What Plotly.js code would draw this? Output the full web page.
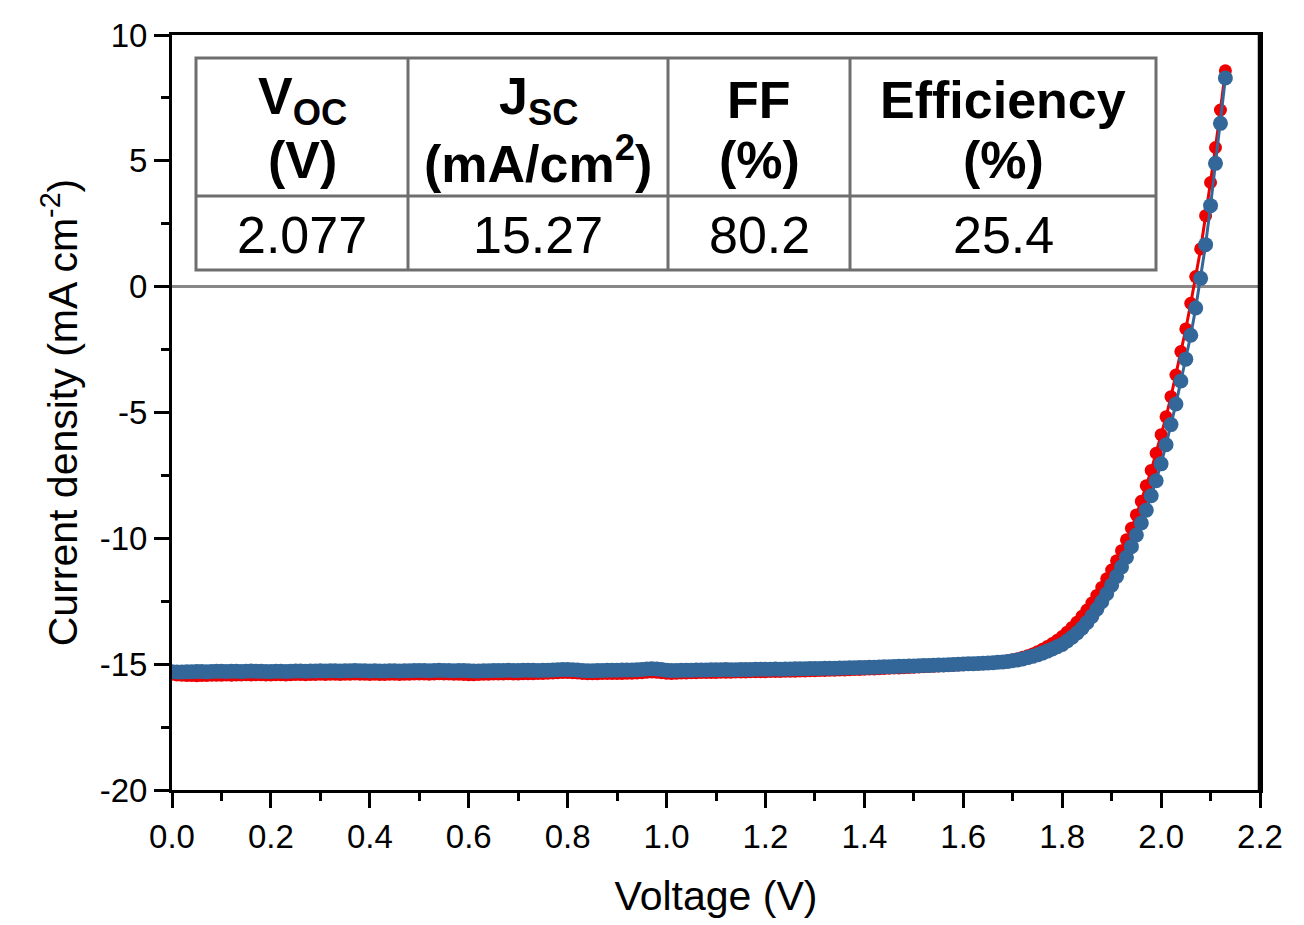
<!DOCTYPE html>
<html>
<head>
<meta charset="utf-8">
<script src="https://cdn.plot.ly/plotly-3.0.1.min.js"></script>
<style>html,body{margin:0;padding:0;background:#fff;}#chart{width:1304px;height:925px;}</style>
</head>
<body>
<div id="chart"></div>
<script>
// Voltage sweep (V)
const voltage = [
0.00,0.01,0.02,0.03,0.04,0.05,0.06,0.07,0.08,0.09,
0.10,0.11,0.12,0.13,0.14,0.15,0.16,0.17,0.18,0.19,
0.20,0.21,0.22,0.23,0.24,0.25,0.26,0.27,0.28,0.29,
0.30,0.31,0.32,0.33,0.34,0.35,0.36,0.37,0.38,0.39,
0.40,0.41,0.42,0.43,0.44,0.45,0.46,0.47,0.48,0.49,
0.50,0.51,0.52,0.53,0.54,0.55,0.56,0.57,0.58,0.59,
0.60,0.61,0.62,0.63,0.64,0.65,0.66,0.67,0.68,0.69,
0.70,0.71,0.72,0.73,0.74,0.75,0.76,0.77,0.78,0.79,
0.80,0.81,0.82,0.83,0.84,0.85,0.86,0.87,0.88,0.89,
0.90,0.91,0.92,0.93,0.94,0.95,0.96,0.97,0.98,0.99,
1.00,1.01,1.02,1.03,1.04,1.05,1.06,1.07,1.08,1.09,
1.10,1.11,1.12,1.13,1.14,1.15,1.16,1.17,1.18,1.19,
1.20,1.21,1.22,1.23,1.24,1.25,1.26,1.27,1.28,1.29,
1.30,1.31,1.32,1.33,1.34,1.35,1.36,1.37,1.38,1.39,
1.40,1.41,1.42,1.43,1.44,1.45,1.46,1.47,1.48,1.49,
1.50,1.51,1.52,1.53,1.54,1.55,1.56,1.57,1.58,1.59,
1.60,1.61,1.62,1.63,1.64,1.65,1.66,1.67,1.68,1.69,
1.70,1.71,1.72,1.73,1.74,1.75,1.76,1.77,1.78,1.79,
1.80,1.81,1.82,1.83,1.84,1.85,1.86,1.87,1.88,1.89,
1.90,1.91,1.92,1.93,1.94,1.95,1.96,1.97,1.98,1.99,
2.00,2.01,2.02,2.03,2.04,2.05,2.06,2.07,2.08,2.09,
2.10,2.11,2.12,2.13
];

// Current density, red curve (mA cm-2)
const currentRed = [
-15.40,-15.43,-15.44,-15.45,-15.45,-15.46,-15.45,-15.45,-15.44,-15.44,
-15.44,-15.43,-15.44,-15.43,-15.43,-15.42,-15.43,-15.42,-15.42,-15.43,
-15.43,-15.42,-15.42,-15.43,-15.42,-15.41,-15.41,-15.42,-15.41,-15.41,
-15.40,-15.41,-15.40,-15.40,-15.41,-15.40,-15.40,-15.39,-15.40,-15.40,
-15.41,-15.40,-15.41,-15.41,-15.40,-15.40,-15.41,-15.40,-15.40,-15.39,
-15.39,-15.39,-15.40,-15.39,-15.38,-15.39,-15.39,-15.40,-15.40,-15.41,
-15.42,-15.42,-15.41,-15.40,-15.40,-15.39,-15.39,-15.39,-15.38,-15.39,
-15.39,-15.38,-15.38,-15.38,-15.37,-15.37,-15.36,-15.35,-15.34,-15.33,
-15.33,-15.34,-15.35,-15.37,-15.38,-15.38,-15.38,-15.37,-15.37,-15.37,
-15.37,-15.37,-15.36,-15.36,-15.35,-15.34,-15.32,-15.31,-15.32,-15.34,
-15.36,-15.37,-15.36,-15.35,-15.35,-15.34,-15.34,-15.33,-15.33,-15.33,
-15.33,-15.32,-15.32,-15.32,-15.31,-15.31,-15.31,-15.30,-15.30,-15.30,
-15.30,-15.29,-15.29,-15.29,-15.28,-15.28,-15.28,-15.27,-15.27,-15.26,
-15.26,-15.25,-15.25,-15.24,-15.24,-15.23,-15.23,-15.22,-15.21,-15.21,
-15.20,-15.19,-15.19,-15.18,-15.17,-15.16,-15.15,-15.15,-15.14,-15.13,
-15.12,-15.11,-15.10,-15.09,-15.08,-15.07,-15.06,-15.05,-15.04,-15.03,
-15.02,-15.01,-15.00,-14.99,-14.98,-14.96,-14.94,-14.92,-14.89,-14.86,
-14.82,-14.78,-14.73,-14.67,-14.60,-14.51,-14.41,-14.30,-14.18,-14.05,
-13.90,-13.73,-13.54,-13.33,-13.10,-12.85,-12.57,-12.27,-11.95,-11.61,
-11.26,-10.89,-10.49,-10.06,-9.60,-9.07,-8.53,-7.91,-7.30,-6.62,
-5.88,-5.17,-4.37,-3.51,-2.58,-1.68,-0.66,0.40,1.50,2.82,
4.14,5.53,7.02,8.58
];

// Current density, blue curve (mA cm-2)
const currentBlue = [
-15.30,-15.31,-15.31,-15.30,-15.30,-15.29,-15.29,-15.30,-15.29,-15.28,
-15.28,-15.29,-15.28,-15.28,-15.29,-15.28,-15.27,-15.28,-15.28,-15.29,
-15.29,-15.28,-15.28,-15.29,-15.28,-15.27,-15.27,-15.28,-15.27,-15.27,
-15.26,-15.27,-15.26,-15.26,-15.27,-15.26,-15.26,-15.25,-15.26,-15.26,
-15.27,-15.26,-15.27,-15.27,-15.26,-15.26,-15.27,-15.26,-15.26,-15.25,
-15.25,-15.25,-15.26,-15.25,-15.24,-15.25,-15.25,-15.26,-15.25,-15.25,
-15.26,-15.27,-15.27,-15.26,-15.26,-15.25,-15.25,-15.25,-15.24,-15.25,
-15.25,-15.24,-15.24,-15.24,-15.25,-15.24,-15.24,-15.23,-15.22,-15.21,
-15.21,-15.22,-15.23,-15.25,-15.26,-15.26,-15.25,-15.25,-15.24,-15.24,
-15.24,-15.23,-15.23,-15.23,-15.22,-15.21,-15.19,-15.18,-15.19,-15.21,
-15.24,-15.25,-15.25,-15.24,-15.24,-15.24,-15.23,-15.23,-15.23,-15.22,
-15.22,-15.22,-15.21,-15.22,-15.22,-15.21,-15.21,-15.21,-15.20,-15.20,
-15.20,-15.20,-15.19,-15.20,-15.19,-15.19,-15.18,-15.18,-15.18,-15.17,
-15.17,-15.17,-15.16,-15.16,-15.16,-15.15,-15.15,-15.14,-15.14,-15.13,
-15.13,-15.12,-15.12,-15.11,-15.10,-15.10,-15.09,-15.08,-15.08,-15.07,
-15.07,-15.06,-15.05,-15.05,-15.04,-15.03,-15.03,-15.02,-15.01,-15.00,
-14.99,-14.98,-14.98,-14.97,-14.96,-14.95,-14.94,-14.92,-14.91,-14.89,
-14.86,-14.83,-14.79,-14.74,-14.69,-14.63,-14.56,-14.48,-14.40,-14.31,
-14.22,-14.08,-13.93,-13.76,-13.57,-13.35,-13.10,-12.82,-12.52,-12.20,
-11.86,-11.51,-11.14,-10.75,-10.33,-9.87,-9.39,-8.88,-8.31,-7.71,
-7.04,-6.28,-5.48,-4.66,-3.75,-2.88,-1.93,-0.85,0.33,1.67,
3.22,4.90,6.49,8.29
];

// Axis ticks
const xTickVals = [0.0,0.2,0.4,0.6,0.8,1.0,1.2,1.4,1.6,1.8,2.0,2.2];
const xTickText = ["0.0","0.2","0.4","0.6","0.8","1.0","1.2","1.4","1.6","1.8","2.0","2.2"];
const yTickVals = [10,5,0,-5,-10,-15,-20];
const yTickText = ["10","5","0","-5","-10","-15","-20"];

// Inset table
const tableHeadLine1 = ["<b>V<sub>OC</sub></b>","<b>J<sub>SC</sub></b>","<b>FF</b>","<b>Efficiency</b>"];
const tableHeadLine2 = ["<b>(V)</b>","<b>(mA/cm<sup>2</sup>)</b>","<b>(%)</b>","<b>(%)</b>"];
const tableValues = ["2.077","15.27","80.2","25.4"];

// ---- layout geometry (pixels) ----
const W = 1304, H = 925;
const PL = 172, PR = 1260, PT = 35, PB = 790;
const px = v => (v - PL) / (PR - PL);
const py = v => (PB - v) / (PB - PT);

const colEdges = [196, 408, 668, 850, 1156];
const rowEdges = [58, 196, 270];
const tableColor = '#6e6e6e';
const FONT = 'Liberation Sans, Arial, sans-serif';

const shapes = [];
shapes.push({type:'rect', xref:'paper', yref:'paper', x0:px(colEdges[0]), x1:px(colEdges[4]), y0:py(rowEdges[0]), y1:py(rowEdges[2]), line:{color:tableColor, width:3}, fillcolor:'rgba(255,255,255,1)', layer:'above'});
for (let i = 1; i < colEdges.length - 1; i++) {
  shapes.push({type:'line', xref:'paper', yref:'paper', x0:px(colEdges[i]), x1:px(colEdges[i]), y0:py(rowEdges[0]), y1:py(rowEdges[2]), line:{color:tableColor, width:3}, layer:'above'});
}
shapes.push({type:'line', xref:'paper', yref:'paper', x0:px(colEdges[0]), x1:px(colEdges[4]), y0:py(rowEdges[1]), y1:py(rowEdges[1]), line:{color:tableColor, width:3}, layer:'above'});
// thicker right frame edge as in the reference
shapes.push({type:'line', xref:'paper', yref:'paper', x0:1, x1:1, y0:0, y1:1, line:{color:'#000', width:4.5}, layer:'above'});

const annotations = [];
for (let i = 0; i < 4; i++) {
  const cx = px((colEdges[i] + colEdges[i+1]) / 2);
  annotations.push({xref:'paper', yref:'paper', x:cx, y:py(100), text:tableHeadLine1[i], showarrow:false, xanchor:'center', yanchor:'middle', font:{family:FONT, size:52, color:'#000'}});
  annotations.push({xref:'paper', yref:'paper', x:cx, y:py(160), text:tableHeadLine2[i], showarrow:false, xanchor:'center', yanchor:'middle', font:{family:FONT, size:52, color:'#000'}});
  annotations.push({xref:'paper', yref:'paper', x:cx, y:py(235), text:tableValues[i], showarrow:false, xanchor:'center', yanchor:'middle', font:{family:FONT, size:52, color:'#000'}});
}

const traces = [
  {x: voltage, y: currentRed, type:'scatter', mode:'lines+markers', name:'red',
   line:{color:'rgb(238,0,0)', width:3}, marker:{color:'rgb(238,0,0)', size:13}},
  {x: voltage, y: currentBlue, type:'scatter', mode:'lines+markers', name:'blue',
   line:{color:'rgb(51,103,153)', width:3}, marker:{color:'rgb(51,103,153)', size:15}}
];

const layout = {
  width: W, height: H,
  margin: {l: PL, r: W - PR, t: PT, b: H - PB, pad: 0},
  paper_bgcolor: '#fff', plot_bgcolor: '#fff',
  showlegend: false,
  font: {family: FONT, color: '#000'},
  xaxis: {
    range: [0, 2.2], tickmode:'array', tickvals: xTickVals, ticktext: xTickText,
    ticks: 'outside', ticklen: 15, tickwidth: 3, tickcolor: '#000',
    minor: {dtick: 0.1, tick0: 0, ticks: 'outside', ticklen: 8, tickwidth: 3, tickcolor: '#000'},
    showline: true, linecolor: '#000', linewidth: 3, mirror: true,
    showgrid: false, zeroline: false,
    tickfont: {family: FONT, size: 33, color: '#000'},
    title: {text: 'Voltage (V)', font: {family: FONT, size: 41, color: '#000'}, standoff: 28}
  },
  yaxis: {
    range: [-20, 10], tickmode:'array', tickvals: yTickVals, ticktext: yTickText,
    ticks: 'outside', ticklen: 15, tickwidth: 3, tickcolor: '#000',
    minor: {dtick: 2.5, tick0: 0, ticks: 'outside', ticklen: 8, tickwidth: 3, tickcolor: '#000'},
    showline: true, linecolor: '#000', linewidth: 3, mirror: true,
    showgrid: false, zeroline: true, zerolinecolor: '#888', zerolinewidth: 3.5,
    tickfont: {family: FONT, size: 33, color: '#000'},
    title: {text: 'Current density (mA cm<sup>-2</sup>)', font: {family: FONT, size: 41, color: '#000'}, standoff: 10}
  },
  shapes: shapes,
  annotations: annotations
};

Plotly.newPlot('chart', traces, layout, {displayModeBar: false, staticPlot: true});
</script>
</body>
</html>
